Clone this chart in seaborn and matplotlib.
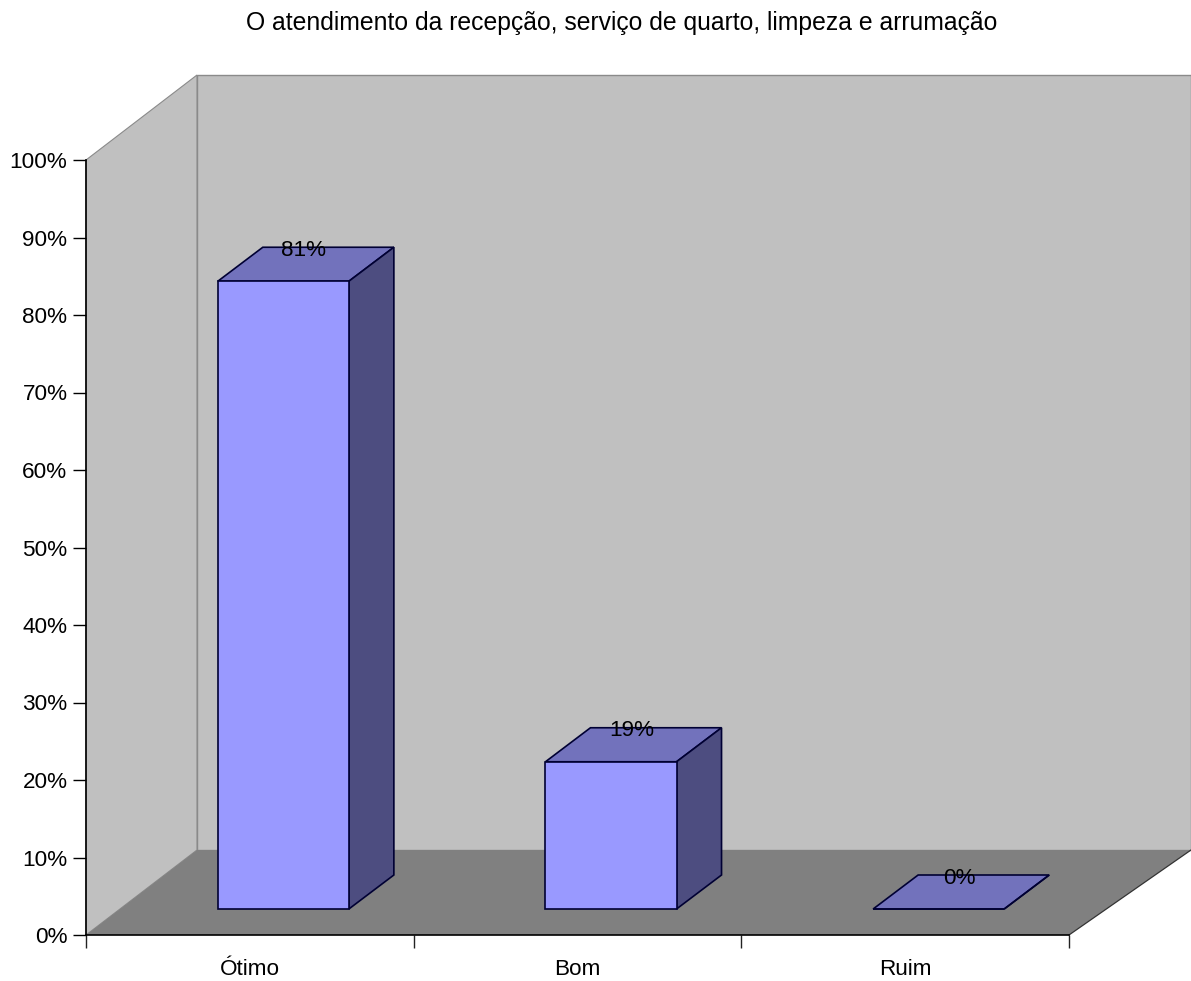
import matplotlib
matplotlib.use("Agg")
import matplotlib.pyplot as plt
import pandas as pd
import seaborn as sns
from matplotlib.patches import Polygon
from matplotlib.transforms import Affine2D, IdentityTransform

# Survey results
categories = ["Ótimo", "Bom", "Ruim"]
values = [81, 19, 0]
title = "O atendimento da recepção, serviço de quarto, limpeza e arrumação"
y_ticks = list(range(0, 101, 10))

FRONT = "#9999FF"
TOP = "#7272BC"
SIDE = "#4D4D80"
WALL = "#C0C0C0"
FLOOR = "#808080"
EDGE = "#000033"

# Pixel offsets that give the flat axes their oblique depth
WALL_DX, WALL_RIGHT_DX, WALL_DY = 111, 122, 85
BAR_DX, BAR_DY = 33.5, 26
DEPTH_DX, DEPTH_DY = 45, 34

W, H = 1191, 981
sns.set_theme(style="white")
plt.rcParams["font.family"] = ["Liberation Sans", "DejaVu Sans"]

fig = plt.figure(figsize=(W / 100, H / 100), dpi=100, facecolor="white")
ax = fig.add_axes([86 / W, (H - 935) / H, 983 / W, 775 / H])

table = pd.DataFrame({"categoria": categories, "valor": values})
sns.barplot(data=table, x="categoria", y="valor", order=categories, width=0.4,
            color=FRONT, saturation=1, edgecolor=EDGE, linewidth=1.2,
            zorder=5, ax=ax)
ax.set_xlim(-0.5, len(categories) - 0.5)
ax.set_ylim(0, 100)


def shifted(x, y, dx=0, dy=0):
    """Display position of a data point moved by a pixel offset."""
    px, py = ax.transData.transform((x, y))
    return px + dx, py + dy


# Room behind the bars: back wall, side wall and floor
x_lo, x_hi = -0.5, len(categories) - 0.5
wall_patches = [
    Polygon([shifted(x_lo, 0, WALL_DX, WALL_DY), shifted(x_hi, 0, WALL_RIGHT_DX, WALL_DY),
             shifted(x_hi, 100, WALL_RIGHT_DX, WALL_DY), shifted(x_lo, 100, WALL_DX, WALL_DY)],
            facecolor=WALL, edgecolor="#8A8A8A", linewidth=1.0),
    Polygon([shifted(x_lo, 0), shifted(x_lo, 0, WALL_DX, WALL_DY),
             shifted(x_lo, 100, WALL_DX, WALL_DY), shifted(x_lo, 100)],
            facecolor=WALL, edgecolor="#8A8A8A", linewidth=0.8),
    Polygon([shifted(x_lo, 0), shifted(x_hi, 0),
             shifted(x_hi, 0, WALL_RIGHT_DX, WALL_DY), shifted(x_lo, 0, WALL_DX, WALL_DY)],
            facecolor=FLOOR, edgecolor="none"),
]
for z, patch in enumerate(wall_patches):
    patch.set_transform(IdentityTransform())
    patch.set_clip_on(False)
    patch.set_zorder(0.1 + z / 10)
    ax.add_patch(patch)
floor_edge = [shifted(x_hi, 0), shifted(x_hi, 0, WALL_RIGHT_DX, WALL_DY)]
ax.plot(*zip(*floor_edge), color="#333333", lw=0.9, transform=IdentityTransform(),
        clip_on=False, zorder=0.5)

# Bars: front faces come from seaborn, then get a top and a side face
lift = ax.transData + Affine2D().translate(BAR_DX, BAR_DY)
for bar, value in zip(ax.patches[:len(categories)], values):
    bar.set_transform(lift)
    bar.set_clip_on(False)
    x0, x1 = bar.get_x(), bar.get_x() + bar.get_width()
    top = [shifted(x0, value, BAR_DX, BAR_DY), shifted(x1, value, BAR_DX, BAR_DY),
           shifted(x1, value, BAR_DX + DEPTH_DX, BAR_DY + DEPTH_DY),
           shifted(x0, value, BAR_DX + DEPTH_DX, BAR_DY + DEPTH_DY)]
    side = [shifted(x1, 0, BAR_DX, BAR_DY), shifted(x1, 0, BAR_DX + DEPTH_DX, BAR_DY + DEPTH_DY),
            shifted(x1, value, BAR_DX + DEPTH_DX, BAR_DY + DEPTH_DY), shifted(x1, value, BAR_DX, BAR_DY)]
    for points, color in ((top, TOP), (side, SIDE)):
        ax.add_patch(Polygon(points, closed=True, facecolor=color, edgecolor=EDGE, linewidth=1.2,
                             transform=IdentityTransform(), clip_on=False, zorder=4))

# Value labels sit on the rear edge of each bar's top face
for i, value in enumerate(values):
    ax.annotate(f"{value}%", xy=(i, value), xycoords="data",
                xytext=((BAR_DX + 20.5) * 0.72, (BAR_DY + DEPTH_DY - 3) * 0.72),
                textcoords="offset points", ha="center", va="center",
                fontsize=16.2, color="black", zorder=6, annotation_clip=False)

# Axes
for name in ("top", "right"):
    ax.spines[name].set_visible(False)
for name in ("left", "bottom"):
    ax.spines[name].set_color("black")
    ax.spines[name].set_linewidth(1.2)
    ax.spines[name].set_zorder(3)
ax.set_xlabel("")
ax.set_ylabel("")
ax.set_yticks(y_ticks)
ax.set_yticklabels([f"{t}%" for t in y_ticks], fontsize=16.2, color="black")
ax.set_xticks(range(len(categories)))
ax.set_xticklabels(categories, fontsize=16.2, color="black")
ax.set_xticks([x_lo + i for i in range(len(categories) + 1)], minor=True)
ax.tick_params(axis="y", which="major", left=True, length=9.4, width=1.0, color="black", pad=4)
ax.tick_params(axis="x", which="major", bottom=False, length=0, pad=17)
ax.tick_params(axis="x", which="minor", bottom=True, length=9.4, width=1.0, color="#222222")

fig.text(622 / W, 1 - 23 / H, title, ha="center", va="center", fontsize=17.85, color="black")

fig.savefig("out.png", dpi=100, facecolor="white")
